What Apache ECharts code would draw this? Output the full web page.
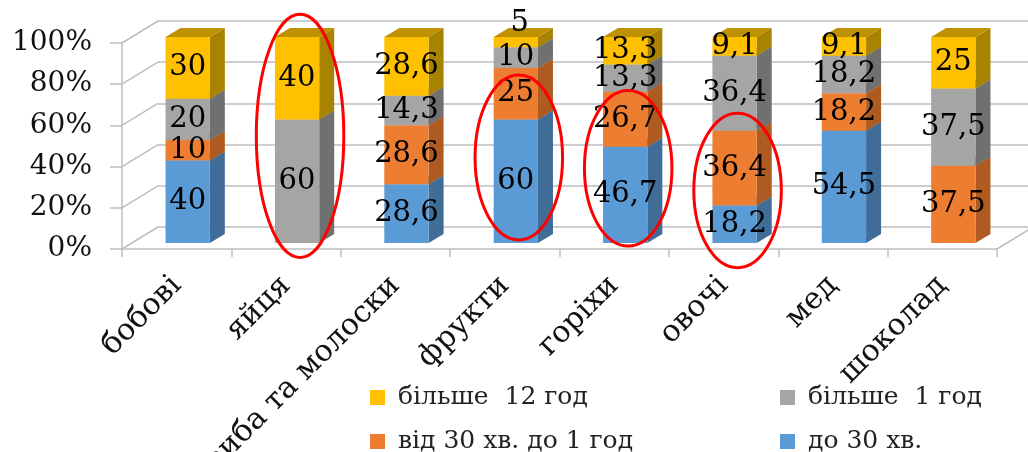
<!DOCTYPE html>
<html>
<head>
<meta charset="utf-8">
<script src="https://cdn.jsdelivr.net/npm/echarts/dist/echarts.min.js"></script>
<style>
  html, body { margin: 0; padding: 0; background: #ffffff; }
  #chart { width: 1028px; height: 452px; }
</style>
</head>
<body>
<div id="chart"></div>
<script>
// ---- data ----
const categories = ['бобові', 'яйця', 'риба та молоски', 'фрукти', 'горіхи', 'овочі', 'мед', 'шоколад'];
const seriesNames = ['до 30 хв.', 'від 30 хв. до 1 год', 'більше  1 год', 'більше  12 год'];
const under30min = [40, 0, 28.6, 60, 46.7, 18.2, 54.5, 0];
const from30minTo1h = [10, 0, 28.6, 25, 26.7, 36.4, 18.2, 37.5];
const over1h = [20, 60, 14.3, 10, 13.3, 36.4, 18.2, 37.5];
const over12h = [30, 40, 28.6, 5, 13.3, 9.1, 9.1, 25];
const yTicks = [0, 20, 40, 60, 80, 100];
// highlighted categories and the percent range each red ring covers
const ringCategories = ['яйця', 'фрукти', 'горіхи', 'овочі'];
const ringLow = [-7, 1.5, -1.5, -12];
const ringHigh = [111, 81.5, 74, 63];
// legend layout: two rows, two columns
const legendOrder = [3, 2, 1, 0];

// ---- styling ----
const FONT = 'DejaVu Serif';
const faces = [
  { front: '#5B9BD5', side: '#3F6D98', top: '#4C84B8' },
  { front: '#ED7D31', side: '#AE5A21', top: '#C9682A' },
  { front: '#A5A5A5', side: '#707070', top: '#8A8A8A' },
  { front: '#FFC000', side: '#A88300', top: '#BE9100' }
];
const BAR_FRAC = 0.405;     // bar width as share of a category band
const SHIFT_X = 11, SHIFT_Y = -6;   // bars sit a little behind the front axis
const DEPTH_X = 15, DEPTH_Y = -9;   // visible bar depth
const WALL_X = 36, WALL_Y = -22;    // depth of the back wall
const LABEL_SIZE = 29;
const RING_FRAC = 0.8;
const GRID_LINE = '#BEBEBE';

const valueSets = [under30min, from30minTo1h, over1h, over12h];
const totals = categories.map((_, i) => valueSets.reduce((s, arr) => s + arr[i], 0));

function fmt(v) { return String(v).replace('.', ','); }

// stacked, normalised to 100 %
function stackData(k) {
  return categories.map((_, i) => {
    let lo = 0;
    for (let j = 0; j < k; j++) lo += valueSets[j][i];
    const hi = lo + valueSets[k][i];
    return [i, lo / totals[i] * 100, hi / totals[i] * 100, valueSets[k][i]];
  });
}

function segRenderer(k) {
  return function (params, api) {
    const ci = api.value(0), lo = api.value(1), hi = api.value(2), raw = api.value(3);
    if (!(hi > lo)) return null;
    const band = api.size([1, 0])[0];
    const bw = band * BAR_FRAC;
    const pb = api.coord([ci, lo]), pt = api.coord([ci, hi]);
    const xl = pb[0] - bw / 2 + SHIFT_X, xr = xl + bw;
    const yb = pb[1] + SHIFT_Y, yt = pt[1] + SHIFT_Y;
    const c = faces[k];
    const small = (yb - yt) < LABEL_SIZE * 0.6;
    return {
      type: 'group',
      children: [
        { type: 'polygon', shape: { points: [[xr, yb], [xr + DEPTH_X, yb + DEPTH_Y], [xr + DEPTH_X, yt + DEPTH_Y], [xr, yt]] }, style: { fill: c.side } },
        { type: 'polygon', shape: { points: [[xl, yt], [xr, yt], [xr + DEPTH_X, yt + DEPTH_Y], [xl + DEPTH_X, yt + DEPTH_Y]] }, style: { fill: c.top } },
        { type: 'rect', shape: { x: xl, y: yt, width: bw, height: yb - yt }, style: { fill: c.front } },
        {
          type: 'text', z2: 100,
          style: {
            text: fmt(raw),
            x: (xl + xr) / 2 + (small ? 4 : 0),
            y: small ? yt - 14 : (yt + yb) / 2,
            align: 'center', verticalAlign: 'middle',
            fontFamily: FONT, fontSize: LABEL_SIZE, fill: '#000000'
          }
        }
      ]
    };
  };
}

const barSeries = seriesNames.map((name, k) => ({
  name: name,
  type: 'custom',
  xAxisIndex: 0, yAxisIndex: 0,
  itemStyle: { color: faces[k].front },
  encode: { x: 0, y: [1, 2] },
  data: stackData(k),
  renderItem: segRenderer(k),
  clip: false,
  z: 3
}));

// side wall and floor edges of the box
const frameSeries = {
  type: 'custom',
  xAxisIndex: 0, yAxisIndex: 0,
  silent: true,
  clip: false,
  z: 1,
  data: yTicks.map(v => [0, v]),
  encode: { x: 0, y: 1 },
  renderItem: function (params, api) {
    const v = api.value(1);
    const p = api.coord([0, v]);
    const x0 = params.coordSys.x;
    const lines = [
      { type: 'line', shape: { x1: x0, y1: p[1], x2: x0 + WALL_X, y2: p[1] + WALL_Y }, style: { stroke: GRID_LINE, lineWidth: 1.5 } }
    ];
    if (v === 0) {
      const x1 = params.coordSys.x + params.coordSys.width;
      lines.push({ type: 'line', shape: { x1: x1, y1: p[1], x2: x1 + WALL_X, y2: p[1] + WALL_Y }, style: { stroke: GRID_LINE, lineWidth: 1.5 } });
    }
    return { type: 'group', children: lines };
  }
};

const ringSeries = {
  type: 'custom',
  xAxisIndex: 0, yAxisIndex: 0,
  silent: true,
  clip: false,
  z: 5,
  data: ringCategories.map((c, i) => [categories.indexOf(c), ringLow[i], ringHigh[i]]),
  encode: { x: 0, y: [1, 2] },
  renderItem: function (params, api) {
    const ci = api.value(0);
    const band = api.size([1, 0])[0];
    const pt = api.coord([ci, api.value(2)]);
    const pb = api.coord([ci, api.value(1)]);
    return {
      type: 'ellipse',
      shape: {
        cx: pt[0] + SHIFT_X + 3,
        cy: (pt[1] + pb[1]) / 2 + SHIFT_Y,
        rx: band * RING_FRAC / 2,
        ry: (pb[1] - pt[1]) / 2
      },
      style: { fill: null, stroke: '#FF0000', lineWidth: 3 }
    };
  }
};

// one legend block per entry, laid out in a 2 x 2 table
const legendCols = [370, 780];
const legendRows = [385, 429];
const legends = legendOrder.map((k, n) => ({
  data: [seriesNames[k]],
  left: legendCols[n % 2],
  top: legendRows[Math.floor(n / 2)],
  padding: 0,
  icon: 'rect',
  itemWidth: 15,
  itemHeight: 15,
  textStyle: { fontFamily: FONT, fontSize: 25, color: '#222222', lineHeight: 25, padding: [0, 0, 0, 8] }
}));

const option = {
  animation: false,
  backgroundColor: '#ffffff',
  grid: [
    { left: 122, right: 31, top: 43, bottom: 203, containLabel: false, outerBoundsMode: 'none' },
    { left: 122 + WALL_X, right: 31 - WALL_X, top: 43 + WALL_Y, bottom: 203 - WALL_Y, containLabel: false, outerBoundsMode: 'none' }
  ],
  xAxis: [
    {
      gridIndex: 0, type: 'category', data: categories,
      axisLine: { show: true, lineStyle: { color: GRID_LINE, width: 1.5 } },
      axisTick: { show: true, length: 8, interval: 0, lineStyle: { color: GRID_LINE, width: 1.5 } },
      axisLabel: { interval: 0, rotate: 45, margin: 32, fontFamily: FONT, fontSize: 30, color: '#111111' },
      splitLine: { show: false }
    },
    {
      gridIndex: 1, type: 'category', data: categories,
      axisLine: { show: false }, axisTick: { show: false }, axisLabel: { show: false }, splitLine: { show: false }
    }
  ],
  yAxis: [
    {
      gridIndex: 0, type: 'value', min: 0, max: 100, interval: 20,
      axisLine: { show: true, lineStyle: { color: GRID_LINE, width: 1.5 } },
      axisTick: { show: true, length: 12, lineStyle: { color: GRID_LINE, width: 1.5 } },
      axisLabel: { formatter: '{value}%', margin: 30, fontFamily: FONT, fontSize: 28, color: '#111111' },
      splitLine: { show: false }
    },
    {
      gridIndex: 1, type: 'value', min: 0, max: 100, interval: 20,
      axisLine: { show: false }, axisTick: { show: false }, axisLabel: { show: false },
      splitLine: { show: true, lineStyle: { color: GRID_LINE, width: 1.5 } }
    }
  ],
  legend: legends,
  series: [frameSeries].concat(barSeries, [ringSeries])
};

const chart = echarts.init(document.getElementById('chart'), null, { renderer: 'canvas' });
chart.setOption(option);
</script>
</body>
</html>
